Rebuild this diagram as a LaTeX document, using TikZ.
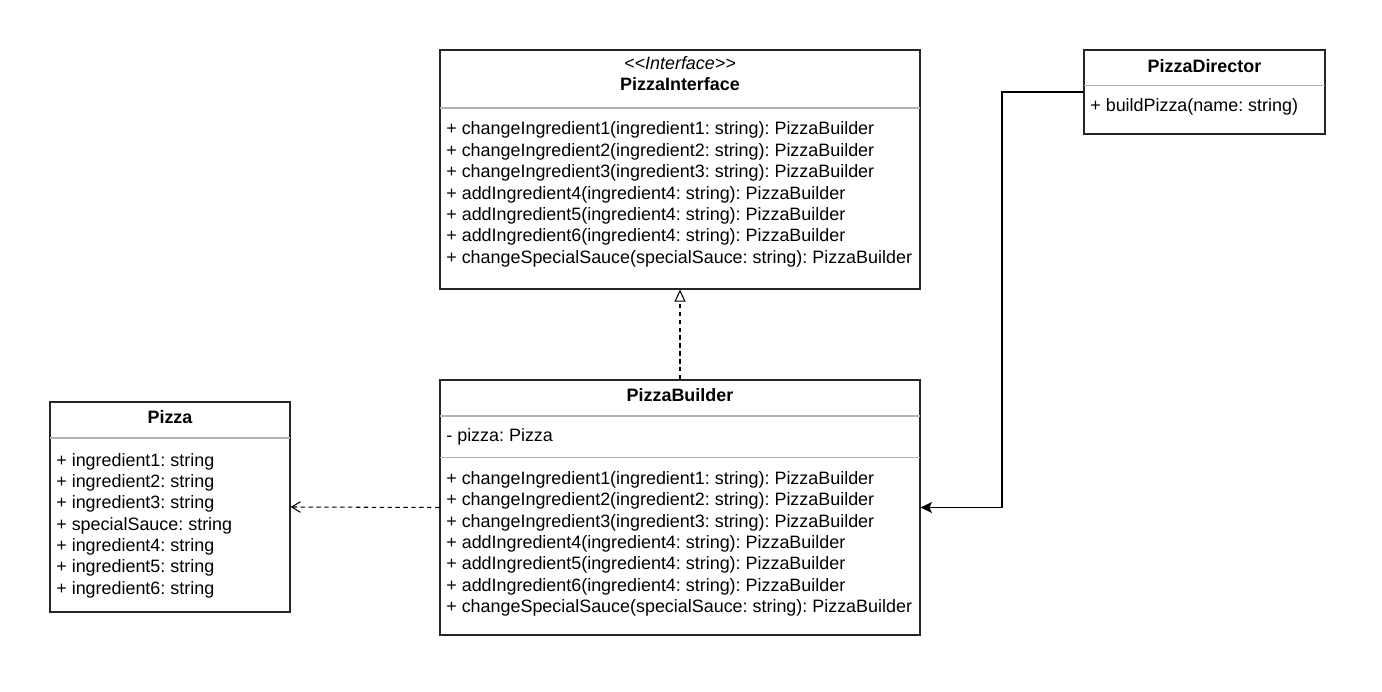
\documentclass[tikz,border=0pt]{standalone}
\usepackage{fontspec}
\setmainfont{Liberation Sans}
\usetikzlibrary{arrows.meta}
\newcommand\umlfont{\fontsize{10.2pt}{12pt}\selectfont}
\frenchspacing

\begin{document}
\begin{tikzpicture}[x=0.02cm,y=-0.02cm,
	class node/.style={rectangle,draw=black!85,line width=0.75pt,fill=white,inner sep=0pt},
	sep line/.style={draw=black!30,line width=0.6pt},
	member/.style={anchor=base west,inner sep=0pt},
	title/.style={anchor=base,inner sep=0pt,font=\umlfont\bfseries},
	real/.style={-{Triangle[open,length=6.8pt,width=6.3pt,fill=white]},dash pattern=on 2.5pt off 2pt,line width=0.6pt},
	dep/.style={-{Straight Barb[length=5pt,width=6pt]},dash pattern=on 2.5pt off 2pt,line width=0.6pt},
	assoc/.style={-{Stealth[length=6.5pt,width=6.3pt,inset=1.5pt]},line width=0.6pt}]
	\tikzstyle{every node}=[font=\umlfont]
	\useasboundingbox (0,0) rectangle (1382,692);
	% class boxes
	\draw
		(680,169.5)  node(iface)    [class node, minimum width=9.6cm, minimum height=4.78cm] {}
		(680,507.5)  node(builder)  [class node, minimum width=9.6cm, minimum height=5.1cm] {}
		(170,507)    node(pizza)    [class node, minimum width=4.8cm, minimum height=4.2cm] {}
		(1204.5,92)  node(director) [class node, minimum width=4.82cm, minimum height=1.68cm] {};
	\draw[sep line] (440,108) -- (920,108);
	\draw[sep line] (440,416) -- (920,416);
	\draw[sep line] (440,457.5) -- (920,457.5);
	\draw[sep line] (50,438) -- (290,438);
	\draw[sep line] (1084,85.5) -- (1325,85.5);
	% PizzaInterface
	\node[title,font=\umlfont\itshape] (ifacestereo) at (680,70) {<{}<Interface>{}>};
	\node[title] (ifacename) at (680,91) {PizzaInterface};
	\node[member] (im1) at (446,135)   {+ changeIngredient1(ingredient1: string): PizzaBuilder};
	\node[member] (im2) at (446,156.4) {+ changeIngredient2(ingredient2: string): PizzaBuilder};
	\node[member] (im3) at (446,177.8) {+ changeIngredient3(ingredient3: string): PizzaBuilder};
	\node[member] (im4) at (446,199.2) {+ addIngredient4(ingredient4: string): PizzaBuilder};
	\node[member] (im5) at (446,220.6) {+ addIngredient5(ingredient4: string): PizzaBuilder};
	\node[member] (im6) at (446,242)   {+ addIngredient6(ingredient4: string): PizzaBuilder};
	\node[member] (im7) at (446,263.4) {+ changeSpecialSauce(specialSauce: string): PizzaBuilder};
	% PizzaBuilder
	\node[title] (buildername) at (680,401.5) {PizzaBuilder};
	\node[member] (ba1) at (446,441.5) {- pizza: Pizza};
	\node[member] (bm1) at (446,484.3) {+ changeIngredient1(ingredient1: string): PizzaBuilder};
	\node[member] (bm2) at (446,505.7) {+ changeIngredient2(ingredient2: string): PizzaBuilder};
	\node[member] (bm3) at (446,527.1) {+ changeIngredient3(ingredient3: string): PizzaBuilder};
	\node[member] (bm4) at (446,548.5) {+ addIngredient4(ingredient4: string): PizzaBuilder};
	\node[member] (bm5) at (446,569.9) {+ addIngredient5(ingredient4: string): PizzaBuilder};
	\node[member] (bm6) at (446,591.3) {+ addIngredient6(ingredient4: string): PizzaBuilder};
	\node[member] (bm7) at (446,612.7) {+ changeSpecialSauce(specialSauce: string): PizzaBuilder};
	% Pizza
	\node[title] (pizzaname) at (170,423.3) {Pizza};
	\node[member] (pa1) at (56,466)   {+ ingredient1: string};
	\node[member] (pa2) at (56,487.3) {+ ingredient2: string};
	\node[member] (pa3) at (56,508.7) {+ ingredient3: string};
	\node[member] (pa4) at (56,530)   {+ specialSauce: string};
	\node[member] (pa5) at (56,551.3) {+ ingredient4: string};
	\node[member] (pa6) at (56,572.7) {+ ingredient5: string};
	\node[member] (pa7) at (56,594)   {+ ingredient6: string};
	% PizzaDirector
	\node[title] (directorname) at (1204.5,72.3) {PizzaDirector};
	\node[member] (dm1) at (1090,111.7) {+ buildPizza(name: string)};
	% connectors
	\coordinate (bend) at (1002,92);
	\draw[real] (builder.north) to (iface.south);
	\draw[dep] (builder.west) to (pizza.east);
	\draw[assoc] (director.west) -- (bend) |- (builder.east);
\end{tikzpicture}
\end{document}
